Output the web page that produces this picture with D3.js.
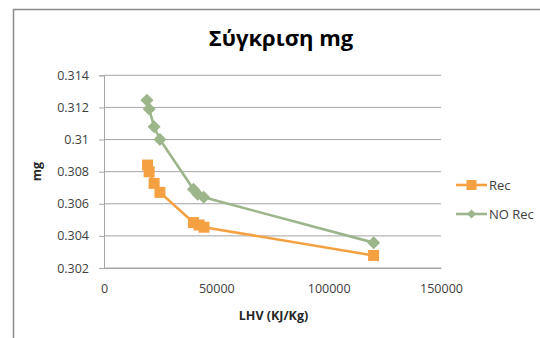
<!DOCTYPE html>
<html>
<head>
<meta charset="utf-8">
<script src="https://cdn.jsdelivr.net/npm/d3@7/dist/d3.min.js"></script>
<style>
  html, body { margin: 0; padding: 0; background: #fff; }
  svg { display: block; }
  text { font-family: "Open Sans", "Liberation Sans", sans-serif; fill: #262626; }
</style>
</head>
<body>
<svg id="chart" width="540" height="338"></svg>
<script>
// Fuel lower heating value (kJ/kg) for each case
const lhvRec   = [19400, 20100, 22300, 24900, 39800, 42300, 44500, 120000];
const mgRec    = [0.30841, 0.30799, 0.30727, 0.30671, 0.30483, 0.30468, 0.30454, 0.30278];
const lhvNoRec = [19100, 20100, 22300, 24900, 39800, 41700, 44400, 120000];
const mgNoRec  = [0.31245, 0.31190, 0.31080, 0.31000, 0.30690, 0.30660, 0.30640, 0.30358];

const xTicks = [0, 50000, 100000, 150000];
const yTicks = [0.302, 0.304, 0.306, 0.308, 0.31, 0.312, 0.314];

const seriesNames = ["Rec", "NO Rec"];
const seriesColors = ["#f5a142", "#9db58a"];

const svg = d3.select("#chart");

// outer chart frame
svg.append("path")
  .attr("d", "M13.5,338 L13.5,9.5 L540,9.5")
  .attr("fill", "none").attr("stroke", "#8c8c8c").attr("stroke-width", 1.5);

const plot = { left: 104, right: 441, top: 75.3, bottom: 268 };

const x = d3.scaleLinear().domain([0, 150000]).range([plot.left, plot.right]);
const y = d3.scaleLinear().domain([0.302, 0.314]).range([plot.bottom, plot.top]);

// title
svg.append("text")
  .attr("x", 281).attr("y", 46)
  .attr("text-anchor", "middle")
  .attr("font-size", 22).attr("font-weight", "bold")
  .style("fill", "#000")
  .text("Σύγκριση mg");

// horizontal gridlines
svg.append("g").selectAll("line")
  .data(yTicks)
  .join("line")
  .attr("x1", plot.left).attr("x2", plot.right)
  .attr("y1", d => y(d)).attr("y2", d => y(d))
  .attr("stroke", "#a6a6a6").attr("stroke-width", 1);

// y axis
const yAxis = d3.axisLeft(y).tickValues(yTicks).tickSize(5).tickPadding(10)
  .tickFormat(d => String(+d.toFixed(3)));
const gy = svg.append("g").attr("transform", `translate(${plot.left},0)`).call(yAxis);
gy.select(".domain").attr("stroke", "#a6a6a6");
gy.selectAll(".tick line").attr("stroke", "#a6a6a6");
gy.selectAll(".tick text").attr("font-size", 12.5).style("fill", "#404040")
  .attr("font-family", "'Open Sans', sans-serif");

// x axis
const xAxis = d3.axisBottom(x).tickValues(xTicks).tickSize(0).tickPadding(16)
  .tickFormat(d3.format("d"));
const gx = svg.append("g").attr("transform", `translate(0,${plot.bottom})`).call(xAxis);
gx.select(".domain").attr("stroke", "#a6a6a6");
gx.selectAll(".tick text").attr("font-size", 12.5).style("fill", "#404040")
  .attr("font-family", "'Open Sans', sans-serif");

// axis titles
svg.append("text")
  .attr("transform", `translate(41,${(plot.top + plot.bottom) / 2}) rotate(-90)`)
  .attr("text-anchor", "middle")
  .attr("font-size", 12.5).attr("font-weight", "bold")
  .text("mg");

svg.append("text")
  .attr("x", (plot.left + plot.right) / 2 + 1).attr("y", 320)
  .attr("text-anchor", "middle")
  .attr("font-size", 12.5).attr("font-weight", "bold")
  .text("LHV (KJ/Kg)");

const line = d3.line().x(d => x(d[0])).y(d => y(d[1]));

const series = [
  { name: seriesNames[0], color: seriesColors[0], pts: d3.zip(lhvRec, mgRec), marker: "square" },
  { name: seriesNames[1], color: seriesColors[1], pts: d3.zip(lhvNoRec, mgNoRec), marker: "diamond" }
];

function drawMarker(g, type, color) {
  if (type === "square") {
    g.append("rect").attr("x", -5.5).attr("y", -5.5).attr("width", 11).attr("height", 11)
      .attr("fill", color);
  } else {
    g.append("path").attr("d", "M0,-6.5 L6.5,0 L0,6.5 L-6.5,0 Z").attr("fill", color);
  }
}

// draw NO Rec first, then Rec on top
[series[1], series[0]].forEach(s => {
  svg.append("path")
    .datum(s.pts)
    .attr("d", line)
    .attr("fill", "none")
    .attr("stroke", s.color)
    .attr("stroke-width", 2.6)
    .attr("stroke-linejoin", "round");
  svg.append("g").selectAll("g")
    .data(s.pts)
    .join("g")
    .attr("transform", d => `translate(${x(d[0])},${y(d[1])})`)
    .each(function () { drawMarker(d3.select(this), s.marker, s.color); });
});

// legend
const legend = svg.append("g");
series.forEach((s, i) => {
  const ly = 185 + i * 29;
  legend.append("line")
    .attr("x1", 456).attr("x2", 487).attr("y1", ly).attr("y2", ly)
    .attr("stroke", s.color).attr("stroke-width", 2.6);
  const m = legend.append("g").attr("transform", `translate(471.5,${ly})`);
  if (s.marker === "square") {
    m.append("rect").attr("x", -5).attr("y", -5).attr("width", 10).attr("height", 10).attr("fill", s.color);
  } else {
    m.append("path").attr("d", "M0,-4.5 L4.5,0 L0,4.5 L-4.5,0 Z").attr("fill", s.color);
  }
  legend.append("text")
    .attr("x", 489).attr("y", ly + 4.5)
    .attr("font-size", 13).style("fill", "#404040")
    .text(s.name);
});
</script>
</body>
</html>
